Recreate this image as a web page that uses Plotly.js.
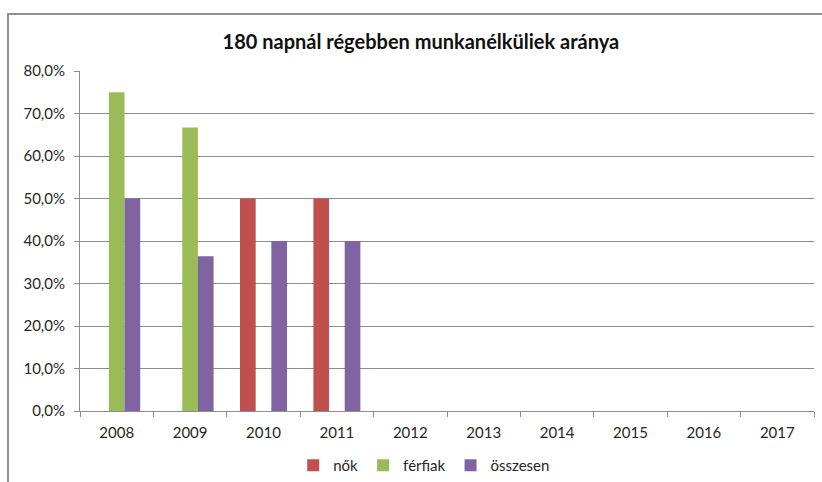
<!DOCTYPE html>
<html>
<head>
<meta charset="utf-8">
<script src="https://cdn.plot.ly/plotly-3.0.1.min.js"></script>
<style>
  html, body { margin: 0; padding: 0; background: #ffffff; }
  #wrap { position: relative; width: 822px; height: 482px; overflow: hidden; }
  #chart { position: absolute; left: 0; top: 0; width: 822px; height: 482px; }
  #frame { position: absolute; left: 7px; top: 13px; width: 900px; height: 600px;
           border-left: 2px solid #8f8f8f; border-top: 2px solid #8f8f8f; pointer-events: none; }
</style>
</head>
<body>
<div id="wrap">
  <div id="chart"></div>
  <div id="frame"></div>
</div>
<script>
const years = ["2008", "2009", "2010", "2011", "2012", "2013", "2014", "2015", "2016", "2017"];
const nok = [0, 0, 50, 50, null, null, null, null, null, null];
const ferfiak = [75, 66.7, 0, 0, null, null, null, null, null, null];
const osszesen = [50, 36.4, 40, 40, null, null, null, null, null, null];
const seriesNames = ["nők", "férfiak", "összesen"];
const seriesColors = ["#C0504D", "#9BBB59", "#8064A2"];
const yTicks = [0, 10, 20, 30, 40, 50, 60, 70, 80];
const yTickText = yTicks.map(v => v.toFixed(1).replace(".", ",") + "%");

const font = "Lato, 'Open Sans', sans-serif";
const seriesData = [nok, ferfiak, osszesen];
const traces = seriesData.map((vals, i) => ({
  type: "bar",
  name: seriesNames[i],
  x: years,
  y: vals,
  marker: { color: seriesColors[i], line: { width: 0 } },
  hoverinfo: "none"
}));

const layout = {
  width: 822,
  height: 482,
  margin: { l: 80, r: 8, t: 71, b: 71, autoexpand: false },
  paper_bgcolor: "#ffffff",
  plot_bgcolor: "#ffffff",
  font: { family: font, size: 15, color: "#262626" },
  title: {
    text: "<b>180 napnál régebben munkanélküliek aránya</b>",
    font: { family: font, size: 20, color: "#111111" },
    x: 0.512, xanchor: "center",
    y: 1 - 42 / 482, yanchor: "middle"
  },
  barmode: "group",
  bargap: 0.36,
  bargroupgap: 0,
  xaxis: {
    type: "category",
    tickson: "boundaries",
    ticks: "outside",
    ticklen: 5,
    tickcolor: "#8c8c8c",
    showline: true,
    linecolor: "#8c8c8c",
    linewidth: 1,
    showgrid: false,
    automargin: false,
    ticklabelstandoff: 8,
    tickfont: { family: font, size: 15, color: "#262626" },
    fixedrange: true
  },
  yaxis: {
    range: [0, 80],
    tickmode: "array",
    tickvals: yTicks,
    ticktext: yTickText,
    ticks: "outside",
    ticklen: 5,
    tickcolor: "#8c8c8c",
    showline: true,
    linecolor: "#8c8c8c",
    linewidth: 1,
    showgrid: true,
    gridcolor: "#8c8c8c",
    gridwidth: 1,
    zeroline: false,
    automargin: false,
    ticklabelstandoff: 6,
    tickfont: { family: font, size: 15, color: "#262626" },
    fixedrange: true
  },
  showlegend: true,
  legend: {
    orientation: "h",
    x: 0.469, xanchor: "center",
    y: -0.16, yanchor: "middle",
    font: { family: font, size: 15, color: "#262626" },
    itemwidth: 30,
    traceorder: "normal"
  }
};

Plotly.newPlot("chart", traces, layout, { displayModeBar: false, staticPlot: true });
</script>
</body>
</html>
